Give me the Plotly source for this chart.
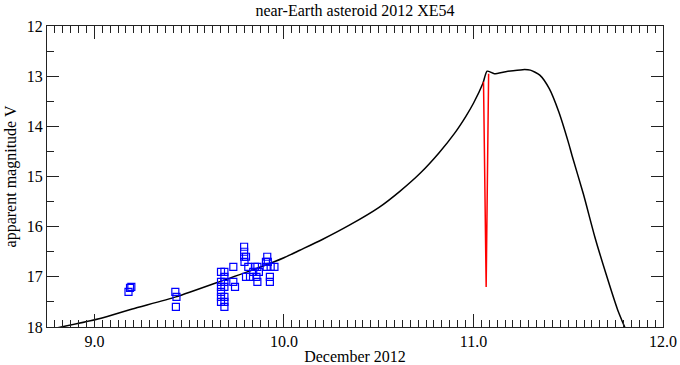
import plotly.graph_objects as go

# Model light curve (days in December 2012, apparent V magnitude)
curve_t = [8.80, 9.03, 9.20, 9.43, 9.68, 9.88, 10.00, 10.084, 10.20, 10.35, 10.50,
           10.61, 10.72, 10.82, 10.90, 10.96, 11.00, 11.05, 11.072, 11.11, 11.17,
           11.26, 11.30, 11.35, 11.40, 11.45, 11.50, 11.52, 11.58, 11.64, 11.70,
           11.76, 11.80]
curve_v = [18.02, 17.83, 17.64, 17.40, 17.07, 16.80, 16.62, 16.47, 16.26, 15.96, 15.62,
           15.30, 14.93, 14.52, 14.14, 13.80, 13.54, 13.14, 12.90, 12.95, 12.91,
           12.87, 12.88, 12.98, 13.25, 13.71, 14.31, 14.58, 15.35, 16.20, 16.95,
           17.65, 18.02]

# Eclipse (Earth shadow) dip
eclipse_t = [11.053, 11.067, 11.080]
eclipse_v = [13.11, 17.20, 12.95]

# Observations
obs_t = [9.180, 9.188, 9.195,
         9.427, 9.433, 9.430,
         9.668, 9.668, 9.668, 9.668, 9.668, 9.668,
         9.686, 9.686, 9.686, 9.686, 9.686, 9.686, 9.686,
         9.733, 9.733, 9.742,
         9.790, 9.790, 9.790, 9.792, 9.800, 9.812, 9.800, 9.821,
         9.838, 9.847, 9.860, 9.855, 9.860, 9.868,
         9.912, 9.915, 9.909, 9.930, 9.950, 9.926, 9.926, 9.905]
obs_v = [17.30, 17.22, 17.20,
         17.30, 17.40, 17.60,
         16.90, 17.10, 17.20, 17.30, 17.40, 17.50,
         16.90, 17.00, 17.10, 17.20, 17.40, 17.50, 17.60,
         16.80, 17.10, 17.20,
         16.40, 16.50, 16.60, 16.70, 16.60, 16.80, 17.00, 17.00,
         16.90, 16.80, 16.80, 17.00, 17.10, 16.90,
         16.60, 16.70, 16.80, 16.80, 16.80, 17.00, 17.10, 16.70]

x_ticks = [9.0, 10.0, 11.0, 12.0]
x_ticklabels = ["9.0", "10.0", "11.0", "12.0"]
y_ticks = [12, 13, 14, 15, 16, 17, 18]

FONT = "Liberation Serif"

fig = go.Figure()
fig.add_trace(go.Scatter(x=curve_t, y=curve_v, mode="lines",
                         line=dict(color="black", width=1.5, shape="spline", smoothing=0.6),
                         hoverinfo="skip", showlegend=False))
fig.add_trace(go.Scatter(x=eclipse_t, y=eclipse_v, mode="lines",
                         line=dict(color="red", width=1.5),
                         showlegend=False))
fig.add_trace(go.Scatter(x=obs_t, y=obs_v, mode="markers",
                         marker=dict(symbol="square-open", size=7, color="blue",
                                     line=dict(width=1.2, color="blue")),
                         showlegend=False))

axis_common = dict(showline=True, linecolor="#222", linewidth=1, mirror="allticks",
                   ticks="inside", tickcolor="#222", tickwidth=1, showgrid=False,
                   zeroline=False, automargin=False,
                   tickfont=dict(family=FONT, size=16, color="black"))

fig.update_layout(
    width=680, height=365,
    margin=dict(l=47, r=17, t=26, b=38),
    paper_bgcolor="white", plot_bgcolor="white",
    font=dict(family=FONT, size=16, color="black"),
    title=dict(text="near-Earth asteroid 2012 XE54", x=0.5, xref="paper",
               y=0.972, yref="container", yanchor="middle",
               font=dict(family=FONT, size=16, color="black")),
    xaxis=dict(range=[8.75, 12.0], tickvals=x_ticks, ticktext=x_ticklabels, ticklen=13,
               minor=dict(dtick=1/24, tick0=9.0, ticklen=7, ticks="inside",
                          tickcolor="#222", showgrid=False),
               title=dict(text="December 2012", standoff=2,
                          font=dict(family=FONT, size=16, color="black")),
               **axis_common),
    yaxis=dict(range=[18, 12], tickvals=y_ticks, ticklen=12,
               minor=dict(dtick=0.5, tick0=12, ticklen=7, ticks="inside",
                          tickcolor="#222", showgrid=False),
               title=dict(text="apparent magnitude V", standoff=6,
                          font=dict(family=FONT, size=16, color="black")),
               **axis_common),
)

fig.write_html("out.html", config={"displayModeBar": False},
               post_script="document.body.style.margin='0px';")
